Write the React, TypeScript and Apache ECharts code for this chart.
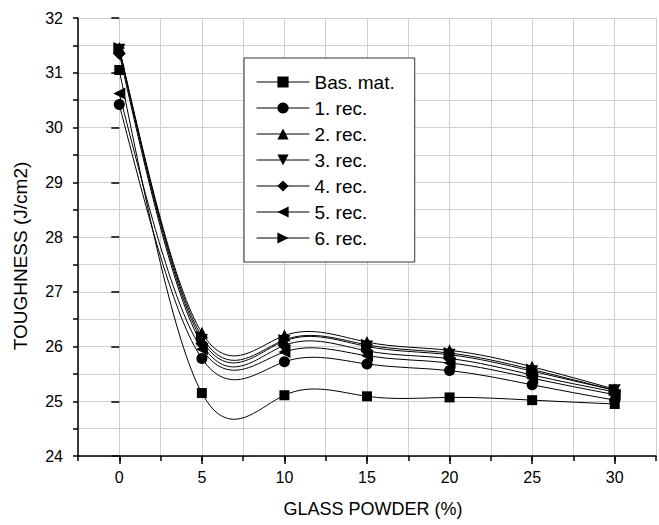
import React, { useEffect, useRef } from "react";
import * as echarts from "echarts";

const glassPowder = [0, 5, 10, 15, 20, 25, 30];
const seriesNames = ["Bas. mat.", "1. rec.", "2. rec.", "3. rec.", "4. rec.", "5. rec.", "6. rec."];
const basMat = [31.05, 25.15, 25.11, 25.09, 25.07, 25.02, 24.95];
const rec1 = [30.42, 25.78, 25.72, 25.68, 25.56, 25.3, 25.02];
const rec2 = [31.45, 26.25, 26.2, 26.08, 25.93, 25.63, 25.22];
const rec3 = [31.42, 26.12, 26.1, 26.0, 25.85, 25.55, 25.2];
const rec4 = [31.35, 26.05, 26.02, 25.92, 25.78, 25.48, 25.17];
const rec5 = [30.62, 25.95, 25.9, 25.83, 25.7, 25.42, 25.12];
const rec6 = [31.45, 26.18, 26.12, 26.03, 25.88, 25.58, 25.2];
const allValues = [basMat, rec1, rec2, rec3, rec4, rec5, rec6];
const xMajorTicks = [0, 5, 10, 15, 20, 25, 30];

const FONT = "'Liberation Sans', Arial, sans-serif";

// Natural cubic spline second derivatives (the way the original plot connects its points)
function splineM(xs: number[], ys: number[]): number[] {
  const n = xs.length;
  const M = new Array(n).fill(0);
  if (n < 3) return M;
  const a: number[] = [], b: number[] = [], c: number[] = [], d: number[] = [];
  for (let i = 1; i < n - 1; i++) {
    const h0 = xs[i] - xs[i - 1];
    const h1 = xs[i + 1] - xs[i];
    a.push(h0);
    b.push(2 * (h0 + h1));
    c.push(h1);
    d.push(6 * ((ys[i + 1] - ys[i]) / h1 - (ys[i] - ys[i - 1]) / h0));
  }
  const m = b.length;
  for (let i = 1; i < m; i++) {
    const w = a[i] / b[i - 1];
    b[i] -= w * c[i - 1];
    d[i] -= w * d[i - 1];
  }
  const sol = new Array(m).fill(0);
  sol[m - 1] = d[m - 1] / b[m - 1];
  for (let i = m - 2; i >= 0; i--) sol[i] = (d[i] - c[i] * sol[i + 1]) / b[i];
  for (let i = 0; i < m; i++) M[i + 1] = sol[i];
  return M;
}

export default function App() {
  const ref = useRef<HTMLDivElement>(null);
  useEffect(() => {
    if (!ref.current) return;
    const chart = echarts.init(ref.current, null, { renderer: "svg" });
    const symbols = [
      { symbol: "rect", size: 10, rotate: 0 },
      { symbol: "circle", size: 11, rotate: 0 },
      { symbol: "triangle", size: 12, rotate: 0 },
      { symbol: "triangle", size: 12, rotate: 180 },
      { symbol: "diamond", size: 13, rotate: 0 },
      { symbol: "triangle", size: 12, rotate: 90 },
      { symbol: "triangle", size: 12, rotate: -90 },
    ];
    const curveSeries = {
      name: "curves",
      type: "custom",
      coordinateSystem: "cartesian2d",
      xAxisIndex: 0,
      yAxisIndex: 0,
      silent: true,
      data: allValues.map((vals) => [glassPowder[0], vals[0]]),
      encode: { x: 0, y: 1 },
      renderItem: (params: any, api: any) => {
        const ys = allValues[params.dataIndex];
        const xs = glassPowder;
        const M = splineM(xs, ys);
        let p0 = api.coord([xs[0], ys[0]]);
        let d = `M${p0[0]},${p0[1]}`;
        for (let i = 0; i < xs.length - 1; i++) {
          const h = xs[i + 1] - xs[i];
          const slope = (ys[i + 1] - ys[i]) / h;
          const d0 = slope - (h * (2 * M[i] + M[i + 1])) / 6;
          const d1 = slope + (h * (M[i] + 2 * M[i + 1])) / 6;
          const c1 = api.coord([xs[i] + h / 3, ys[i] + (h * d0) / 3]);
          const c2 = api.coord([xs[i + 1] - h / 3, ys[i + 1] - (h * d1) / 3]);
          const p3 = api.coord([xs[i + 1], ys[i + 1]]);
          d += ` C${c1[0]},${c1[1]} ${c2[0]},${c2[1]} ${p3[0]},${p3[1]}`;
        }
        return {
          type: "path",
          shape: { pathData: d },
          style: { stroke: "#000", fill: "none", lineWidth: 1 },
        };
      },
    };
    const series: any[] = [curveSeries];
    allValues.forEach((vals, i) => {
      series.push({
        name: seriesNames[i],
        type: "line",
        xAxisIndex: 0,
        yAxisIndex: 0,
        data: glassPowder.map((x, j) => [x, vals[j]]),
        symbol: symbols[i].symbol,
        symbolSize: symbols[i].size,
        symbolRotate: symbols[i].rotate,
        lineStyle: { color: "#000", width: 1, opacity: 0 },
        itemStyle: { color: "#000", borderWidth: 0 },
        emphasis: { disabled: true },
        z: 3,
      });
    });
    chart.setOption({
      animation: false,
      textStyle: { fontFamily: FONT },
      grid: { left: 78, top: 18, right: -8, bottom: 69 },
      legend: {
        orient: "vertical",
        left: 244,
        top: 58,
        padding: [14, 20, 14, 12],
        itemWidth: 53,
        itemHeight: 14,
        itemGap: 6,
        borderColor: "#333",
        borderWidth: 1,
        backgroundColor: "#fff",
        selectedMode: false,
        lineStyle: { color: "#000", width: 1, opacity: 1, type: "solid" },
        textStyle: { fontSize: 19, color: "#000", fontFamily: FONT, lineHeight: 20 },
        data: seriesNames,
      },
      xAxis: [
        {
          type: "value",
          min: -2.5,
          max: 32.5,
          interval: 2.5,
          axisLine: { show: true, onZero: false, lineStyle: { color: "#000", width: 1.5 } },
          axisTick: { show: true, length: 5, lineStyle: { color: "#000", width: 1.5 } },
          axisLabel: {
            margin: 13,
            fontSize: 16,
            color: "#000",
            fontFamily: FONT,
            formatter: (v: number) => (v % 5 === 0 && v >= 0 && v <= 30 ? String(v) : ""),
          },
          splitLine: { show: true, lineStyle: { color: "#cfcfcf", width: 1 } },
        },
        {
          type: "value",
          min: -2.5,
          max: 32.5,
          position: "bottom",
          axisLine: { show: false },
          axisTick: { show: true, length: 8, customValues: xMajorTicks, lineStyle: { color: "#000", width: 1.5 } },
          axisLabel: { show: false },
          splitLine: { show: false },
        },
      ],
      yAxis: [
        {
          type: "value",
          min: 24,
          max: 32,
          interval: 0.5,
          axisLine: { show: true, onZero: false, lineStyle: { color: "#000", width: 1.5 } },
          axisTick: { show: true, length: 5, lineStyle: { color: "#000", width: 1.5 } },
          axisLabel: {
            margin: 15,
            fontSize: 16,
            color: "#000",
            fontFamily: FONT,
            formatter: (v: number) => (Number.isInteger(v) ? String(v) : ""),
          },
          splitLine: { show: true, lineStyle: { color: "#cfcfcf", width: 1 } },
        },
        {
          type: "value",
          min: 24,
          max: 32,
          interval: 1,
          position: "left",
          axisLine: { show: false },
          axisTick: { show: true, length: 8, lineStyle: { color: "#000", width: 1.5 } },
          axisLabel: { show: false },
          splitLine: { show: false },
        },
      ],
      graphic: [
        {
          type: "text",
          x: 20,
          y: 256,
          rotation: Math.PI / 2,
          style: {
            text: "TOUGHNESS (J/cm2)",
            fontSize: 19,
            fontFamily: FONT,
            fill: "#000",
            align: "center",
            verticalAlign: "middle",
          },
        },
        {
          type: "text",
          x: 373,
          y: 509,
          style: {
            text: "GLASS POWDER (%)",
            fontSize: 18,
            fontFamily: FONT,
            fill: "#000",
            align: "center",
            verticalAlign: "middle",
          },
        },
      ],
      series,
    });
    return () => chart.dispose();
  }, []);
  return (
    <div
      ref={ref}
      style={{ position: "fixed", left: 0, top: 0, width: 659, height: 525, background: "#fff" }}
    />
  );
}
